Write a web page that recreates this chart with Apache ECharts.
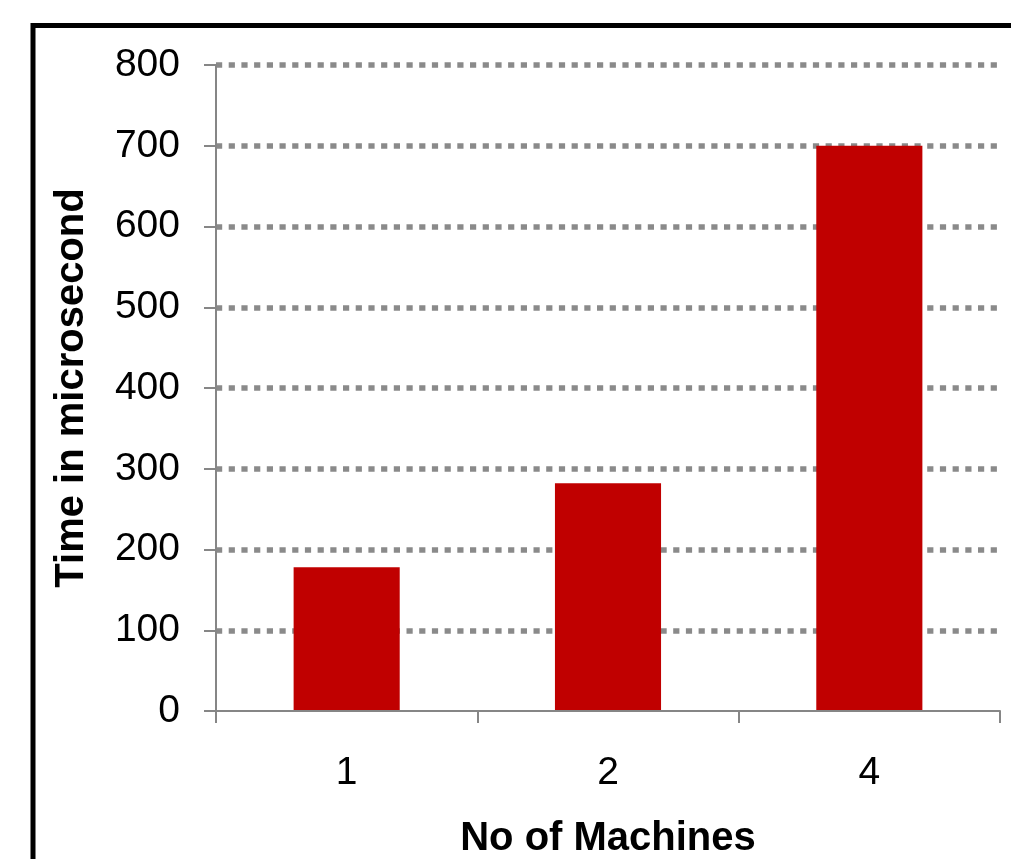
<!DOCTYPE html>
<html>
<head>
<meta charset="utf-8">
<script src="https://cdn.jsdelivr.net/npm/echarts@6/dist/echarts.min.js"></script>
<style>
html,body{margin:0;padding:0;background:#fff;}
#c{width:1011px;height:859px;}
</style>
</head>
<body>
<div id="c"></div>
<script>
const categories = ['1', '2', '4'];
const timeValues = [178, 282, 700];
const yTicks = { min: 0, max: 800, interval: 100 };
const xName = 'No of Machines';
const yName = 'Time in microsecond';

const FONT = "'Liberation Sans', Arial, sans-serif";
const chart = echarts.init(document.getElementById('c'), null, { renderer: 'canvas' });
chart.setOption({
  backgroundColor: '#ffffff',
  animation: false,
  graphic: [{
    type: 'rect',
    shape: { x: 33, y: 25.5, width: 1200, height: 1000 },
    style: { fill: 'none', stroke: '#000000', lineWidth: 5 },
    z: 10
  }],
  grid: { left: 216, right: 11, top: 65, bottom: 148, containLabel: false, outerBoundsMode: 'none' },
  xAxis: {
    type: 'category',
    data: categories,
    name: xName,
    nameLocation: 'middle',
    nameGap: 108,
    nameTextStyle: { fontFamily: FONT, fontSize: 40, fontWeight: 'bold', color: '#000' },
    axisLine: { show: true, lineStyle: { color: '#868686', width: 2 } },
    axisTick: { show: true, length: 12, lineStyle: { color: '#868686', width: 2 } },
    axisLabel: { fontFamily: FONT, fontSize: 39, color: '#000', margin: 43 },
    splitLine: { show: false },
    z: 5
  },
  yAxis: {
    type: 'value',
    min: yTicks.min,
    max: yTicks.max,
    interval: yTicks.interval,
    name: yName,
    nameLocation: 'middle',
    nameGap: 124,
    nameTextStyle: { fontFamily: FONT, fontSize: 40, fontWeight: 'bold', color: '#000' },
    axisLine: { show: true, lineStyle: { color: '#868686', width: 2 } },
    axisTick: { show: true, length: 12, lineStyle: { color: '#868686', width: 2 } },
    axisLabel: { fontFamily: FONT, fontSize: 39, color: '#000', margin: 36 },
    splitLine: { show: true, showMinLine: false, lineStyle: { color: '#8a8a8a', width: 5.5, type: [6.2, 6.5] } }
  },
  series: [{
    type: 'bar',
    data: timeValues,
    barWidth: '40.6%',
    itemStyle: { color: '#C00000' }
  }]
});
</script>
</body>
</html>
